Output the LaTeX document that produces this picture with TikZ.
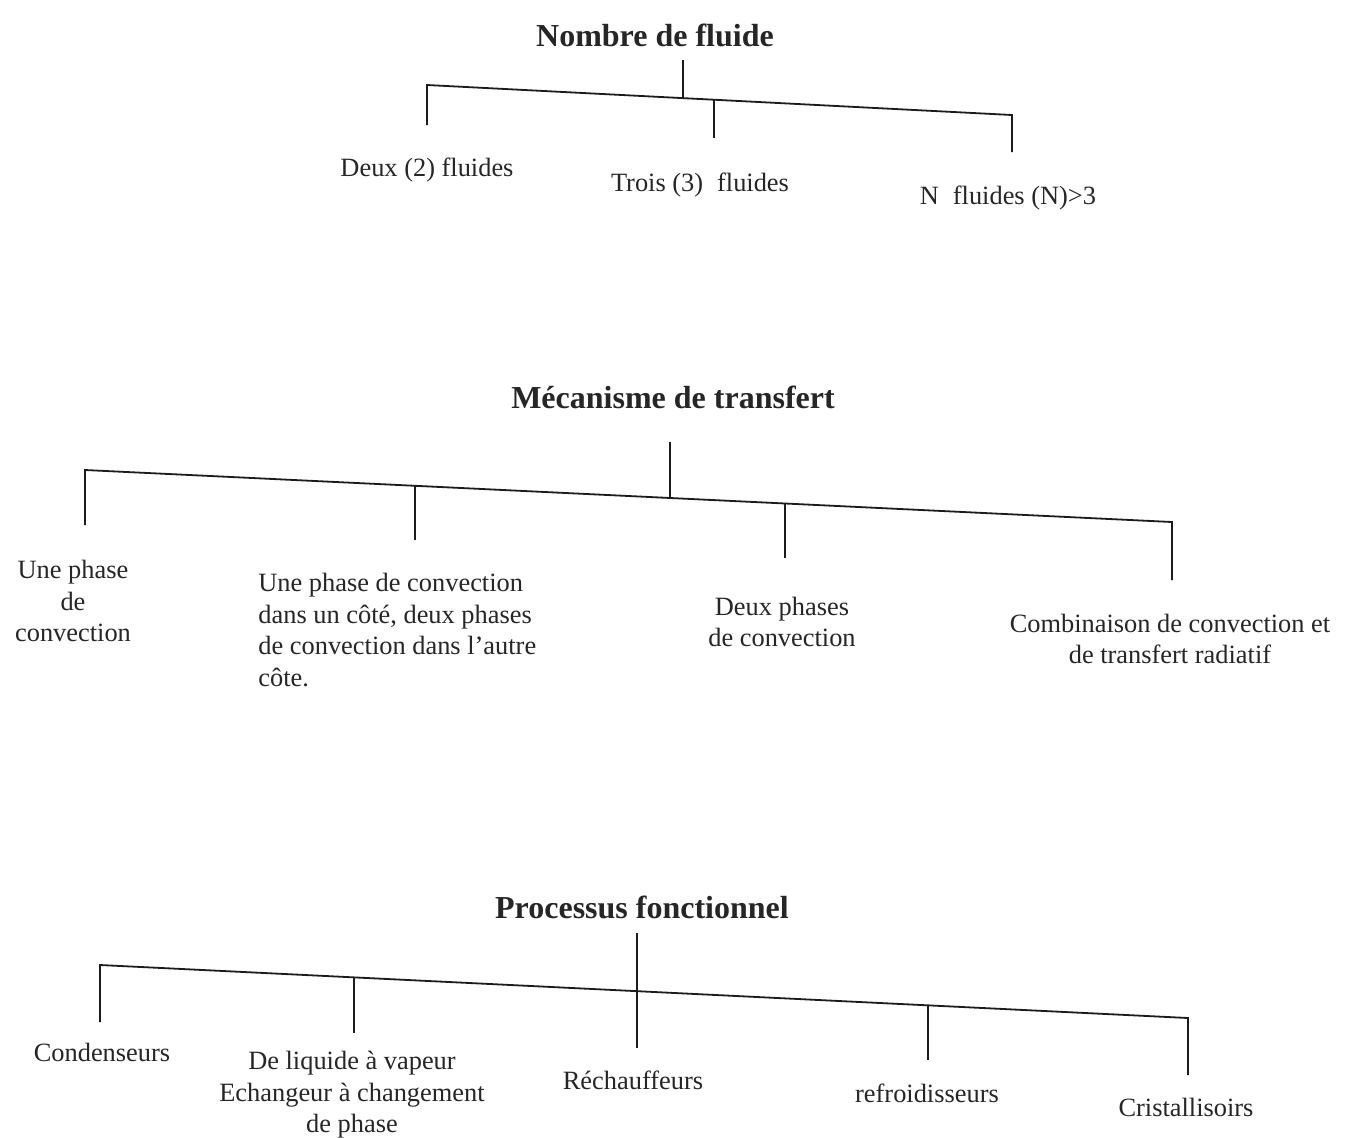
\documentclass[tikz,border=0pt]{standalone}
\usepackage{fontspec}
\setmainfont{Liberation Serif}
\definecolor{ink}{HTML}{262626}
\definecolor{rule}{HTML}{1C1C1C}
\begin{document}
\begin{tikzpicture}[x=0.5pt,y=-0.5pt,
  ttl/.style={font=\bfseries\fontsize{16}{19}\selectfont, text=ink, inner sep=0pt},
  lbl/.style={font=\fontsize{13.2}{15.8}\selectfont, text=ink, inner sep=0pt, align=center},
  br/.style={draw=rule, line width=0.9pt}]
\useasboundingbox[fill=white] (0,0) rectangle (1351,1137);

% ---------- Nombre de fluide ----------
\node[ttl] (t1) at (655,35) {Nombre de fluide};
\coordinate (t1s) at (683,60);
\coordinate (b1L) at (427,85);
\coordinate (b1R) at (1012,115);
\coordinate (b1a) at (683,98);
\coordinate (b1b) at (714,100);
\coordinate (d1L) at (427,125);
\coordinate (d1b) at (714,138);
\coordinate (d1R) at (1012,152);
\node[lbl] (f2) at (427,170) {Deux (2) fluides};
\node[lbl] (f3) at (700,185) {Trois (3)\; fluides};
\node[lbl] (fn) at (1008,198) {N\; fluides (N)>3};
\draw[br] (t1s) -- (b1a);
\draw[br] (d1L) -- (b1L) -- (b1R) -- (d1R);
\draw[br] (b1b) -- (d1b);

% ---------- Mécanisme de transfert ----------
\node[ttl] (t2) at (673,397) {Mécanisme de transfert};
\coordinate (t2s) at (670,442);
\coordinate (b2L) at (85,470);
\coordinate (b2R) at (1172,522);
\coordinate (b2a) at (670,498);
\coordinate (b2b) at (415,486);
\coordinate (b2c) at (785,503);
\coordinate (d2L) at (85,525);
\coordinate (d2b) at (415,540);
\coordinate (d2c) at (785,558);
\coordinate (d2R) at (1172,580);
\node[lbl] (m1) at (73,601) {Une phase\\de\\convection};
\node[lbl, align=left, anchor=north west] (m2) at (258,573)
  {Une phase de convection\\dans un côté, deux phases\\de convection dans l'autre\\côte.};
\node[lbl] (m3) at (782,622) {Deux phases\\de convection};
\node[lbl] (m4) at (1170,639) {Combinaison de convection et\\de transfert radiatif};
\draw[br] (t2s) -- (b2a);
\draw[br] (d2L) -- (b2L) -- (b2R) -- (d2R);
\draw[br] (b2b) -- (d2b);
\draw[br] (b2c) -- (d2c);

% ---------- Processus fonctionnel ----------
\node[ttl] (t3) at (642,907) {Processus fonctionnel};
\coordinate (t3s) at (637,933);
\coordinate (b3L) at (100,965);
\coordinate (b3R) at (1188,1018);
\coordinate (b3b) at (354,977);
\coordinate (b3c) at (637,991);
\coordinate (b3d) at (928,1005);
\coordinate (d3L) at (100,1022);
\coordinate (d3b) at (354,1033);
\coordinate (d3c) at (637,1048);
\coordinate (d3d) at (928,1060);
\coordinate (d3R) at (1188,1075);
\node[lbl] (p1) at (102,1052) {Condenseurs};
\node[lbl] (p2) at (352,1095) {De liquide à vapeur\\Echangeur à changement\\de phase};
\node[lbl] (p3) at (633,1080) {Réchauffeurs};
\node[lbl] (p4) at (927,1093) {refroidisseurs};
\node[lbl] (p5) at (1186,1107) {Cristallisoirs};
\draw[br] (t3s) -- (b3c) -- (d3c);
\draw[br] (d3L) -- (b3L) -- (b3R) -- (d3R);
\draw[br] (b3b) -- (d3b);
\draw[br] (b3d) -- (d3d);
\end{tikzpicture}
\end{document}
